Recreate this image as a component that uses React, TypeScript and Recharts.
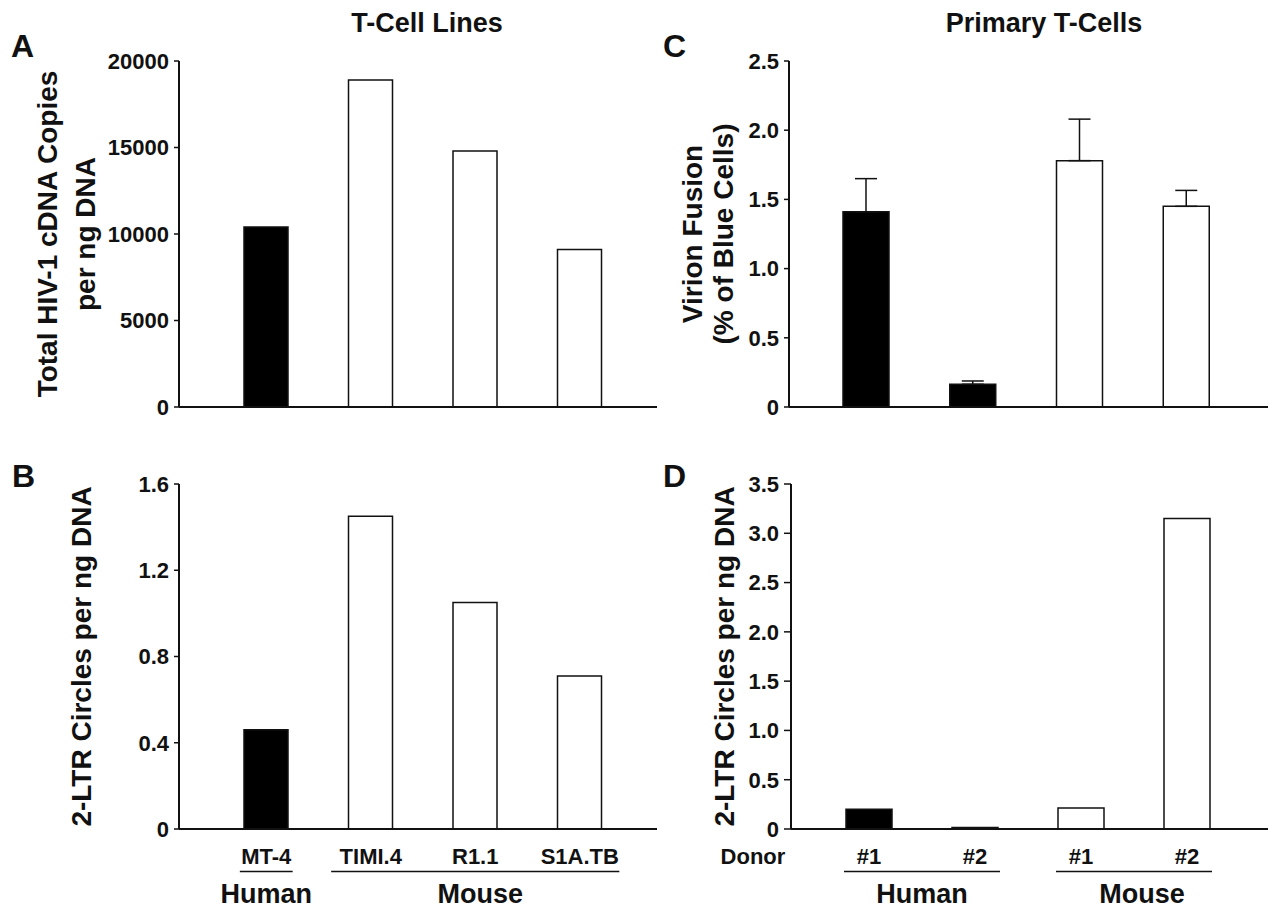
import React from 'react';
import { BarChart, Bar, XAxis, YAxis, Cell, ErrorBar, Label } from 'recharts';

const FONT = '"Liberation Sans", Arial, Helvetica, sans-serif';
const INK = '#111111';

// T-cell lines (panels A, B)
const cellLines = ['MT-4', 'TIMI.4', 'R1.1', 'S1A.TB'];
const cellLineSpecies = ['Human', 'Mouse', 'Mouse', 'Mouse'];
const totalCdnaCopies = [10400, 18900, 14800, 9100];
const cellLineLtrCircles = [0.46, 1.45, 1.05, 0.71];

// primary T-cells (panels C, D)
const donors = ['#1', '#2', '#1', '#2'];
const donorSpecies = ['Human', 'Human', 'Mouse', 'Mouse'];
const virionFusion = [1.41, 0.164, 1.78, 1.45];
const virionFusionErr = [0.24, 0.024, 0.3, 0.115];
const primaryLtrCircles = [0.2, 0.015, 0.213, 3.15];

const ticksA = [0, 5000, 10000, 15000, 20000];
const ticksB = [0, 0.4, 0.8, 1.2, 1.6];
const ticksC = [0, 0.5, 1, 1.5, 2, 2.5];
const ticksD = [0, 0.5, 1, 1.5, 2, 2.5, 3, 3.5];

const SPECIES_FILL: Record<string, string> = { Human: '#000000', Mouse: '#ffffff' };

type Row = { key: string; label: string; species: string; [k: string]: any };

const cellLineRows: Row[] = cellLines.map((name, i) => ({
  key: name,
  label: name,
  species: cellLineSpecies[i],
  total: totalCdnaCopies[i],
  ltr: cellLineLtrCircles[i],
}));

const donorRows: Row[] = donors.map((d, i) => ({
  key: `${donorSpecies[i]} ${d}`,
  label: d,
  species: donorSpecies[i],
  fusion: virionFusion[i],
  fusionErr: [0, virionFusionErr[i]],
  ltr: primaryLtrCircles[i],
}));

const oneDecimal = (v: number) => (v === 0 ? '0' : v.toFixed(1));

const textStyle = { fontFamily: FONT, fontWeight: 700, fill: INK } as const;

// tick renderer that writes the category label, a species underline and the species name
function makeGroupTick(rows: Row[], minPad: number, lead?: string, groupShift = 0) {
  const seen: Record<number, number> = {};
  const halfOf = (r: Row) => Math.max(r.label.length * 0.3 * 22, minPad);
  return (props: any) => {
    const { x, y, payload } = props;
    const i: number = props.index ?? payload.index;
    seen[i] = x;
    const row = rows[i];
    const isLast = i === rows.length - 1 || rows[i + 1].species !== row.species;
    let group: React.ReactNode = null;
    if (isLast) {
      let f = i;
      while (f > 0 && rows[f - 1].species === row.species) f--;
      const firstX = seen[f] ?? x - (i - f) * 106;
      const start = firstX - halfOf(rows[f]);
      const end = x + halfOf(row);
      const shift = f === 0 ? 0 : groupShift;
      group = (
        <g>
          <line x1={start} x2={end} y1={y + 42.5} y2={y + 42.5} stroke={INK} strokeWidth={1.5} />
          <text {...textStyle} x={(start + end) / 2 + shift} y={y + 74} fontSize={27} textAnchor="middle">
            {row.species}
          </text>
        </g>
      );
    }
    return (
      <g>
        <text {...textStyle} x={x} y={y + 35} fontSize={22} textAnchor="middle">
          {row.label}
        </text>
        {i === 0 && lead && (
          <text {...textStyle} x={x - 116} y={y + 35} fontSize={22} textAnchor="middle">
            {lead}
          </text>
        )}
        {group}
      </g>
    );
  };
}

function yTitle(lines: { text: string; dx: number }[]) {
  return (props: any) => {
    const vb = props.viewBox || {};
    const lineX = vb.x + vb.width;
    const cy = vb.y + vb.height / 2;
    return (
      <g>
        {lines.map((l) => (
          <text
            key={l.text}
            {...textStyle}
            fontSize={28}
            x={lineX + l.dx}
            y={cy}
            textAnchor="middle"
            transform={`rotate(-90, ${lineX + l.dx}, ${cy})`}
          >
            {l.text}
          </text>
        ))}
      </g>
    );
  };
}

type Box = { left: number; top: number; width: number; height: number };
type Plot = { left: number; top: number; right: number; bottom: number };

interface PanelProps {
  box: Box;
  plot: Plot;
  data: Row[];
  valueKey: string;
  errKey?: string;
  ticks: number[];
  tickFormatter?: (v: number) => string;
  tickSize: number;
  barSize: number;
  padding: { left: number; right: number };
  title: { text: string; dx: number }[];
  xTick?: any;
}

function Panel({ box, plot, data, valueKey, errKey, ticks, tickFormatter, tickSize, barSize, padding, title, xTick }: PanelProps) {
  const yAxisWidth = plot.left - box.left;
  const xAxisHeight = box.top + box.height - plot.bottom;
  return (
    <div style={{ position: 'absolute', left: box.left, top: box.top, width: box.width, height: box.height }}>
      <BarChart
        width={box.width}
        height={box.height}
        data={data}
        margin={{ top: plot.top - box.top, right: box.left + box.width - plot.right, bottom: 0, left: 0 }}
      >
        <XAxis
          dataKey="key"
          type="category"
          height={xAxisHeight}
          padding={padding}
          axisLine={{ stroke: INK, strokeWidth: 2 }}
          tickLine={false}
          tickSize={0}
          tickMargin={0}
          interval={0}
          tick={xTick ?? false}
        />
        <YAxis
          type="number"
          width={yAxisWidth}
          domain={[ticks[0], ticks[ticks.length - 1]]}
          ticks={ticks}
          interval={0}
          allowDataOverflow
          tickFormatter={tickFormatter}
          tickSize={tickSize}
          tickMargin={5}
          axisLine={{ stroke: INK, strokeWidth: 2 }}
          tickLine={{ stroke: INK, strokeWidth: 1.5 }}
          tick={{ ...textStyle, fontSize: 22 }}
        >
          <Label content={yTitle(title)} />
        </YAxis>
        <Bar dataKey={valueKey} barSize={barSize} stroke={INK} strokeWidth={1.5} isAnimationActive={false}>
          {data.map((r) => (
            <Cell key={r.key} fill={SPECIES_FILL[r.species]} />
          ))}
          {errKey && (
            <ErrorBar dataKey={errKey} direction="y" width={11} stroke={INK} strokeWidth={1.5} isAnimationActive={false} />
          )}
        </Bar>
      </BarChart>
    </div>
  );
}

export default function App() {
  const tickB = makeGroupTick(cellLineRows, 0, undefined, 5);
  const tickD = makeGroupTick(donorRows, 25, 'Donor', 8);
  return (
    <div style={{ position: 'absolute', left: 0, top: 0, width: 1268, height: 911, background: '#fff' }}>
      <Panel
        box={{ left: 0, top: 0, width: 660, height: 450 }}
        plot={{ left: 179, top: 61, right: 657, bottom: 407 }}
        data={cellLineRows}
        valueKey="total"
        ticks={ticksA}
        tickSize={5}
        barSize={44}
        padding={{ left: 35, right: 25 }}
        title={[
          { text: 'Total HIV-1 cDNA Copies', dx: -122 },
          { text: 'per ng DNA', dx: -84 },
        ]}
      />
      <Panel
        box={{ left: 0, top: 450, width: 660, height: 461 }}
        plot={{ left: 179, top: 484, right: 657, bottom: 829 }}
        data={cellLineRows}
        valueKey="ltr"
        ticks={ticksB}
        tickFormatter={oneDecimal}
        tickSize={5}
        barSize={44}
        padding={{ left: 35, right: 25 }}
        title={[{ text: '2-LTR Circles per ng DNA', dx: -88 }]}
        xTick={tickB}
      />
      <Panel
        box={{ left: 660, top: 0, width: 608, height: 450 }}
        plot={{ left: 789, top: 61, right: 1268, bottom: 407 }}
        data={donorRows}
        valueKey="fusion"
        errKey="fusionErr"
        ticks={ticksC}
        tickFormatter={oneDecimal}
        tickSize={5}
        barSize={46}
        padding={{ left: 24, right: 28 }}
        title={[
          { text: 'Virion Fusion', dx: -87 },
          { text: '(% of Blue Cells)', dx: -56 },
        ]}
      />
      <Panel
        box={{ left: 660, top: 450, width: 608, height: 461 }}
        plot={{ left: 791, top: 484, right: 1268, bottom: 829 }}
        data={donorRows}
        valueKey="ltr"
        ticks={ticksD}
        tickFormatter={oneDecimal}
        tickSize={7}
        barSize={46}
        padding={{ left: 25, right: 28 }}
        title={[{ text: '2-LTR Circles per ng DNA', dx: -57 }]}
        xTick={tickD}
      />
      <svg width={1268} height={911} style={{ position: 'absolute', left: 0, top: 0, pointerEvents: 'none' }}>
        <text {...textStyle} x={11} y={57} fontSize={32}>A</text>
        <text {...textStyle} x={12} y={487} fontSize={32}>B</text>
        <text {...textStyle} x={663} y={57} fontSize={32}>C</text>
        <text {...textStyle} x={663} y={487} fontSize={32}>D</text>
        <text {...textStyle} x={427} y={32} fontSize={27} textAnchor="middle">T-Cell Lines</text>
        <text {...textStyle} x={1044} y={32} fontSize={27} textAnchor="middle">Primary T-Cells</text>
      </svg>
    </div>
  );
}
